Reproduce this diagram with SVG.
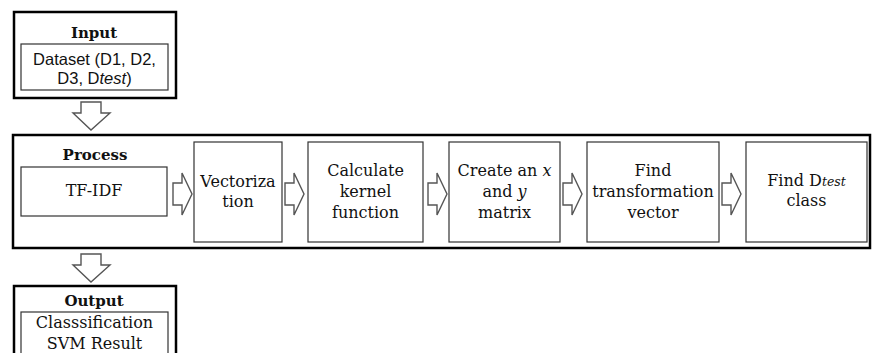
<svg xmlns="http://www.w3.org/2000/svg" width="873" height="353" viewBox="0 0 873 353">
  <style>
    .frame { fill: #ffffff; stroke: #000000; stroke-width: 2.5; }
    .box { fill: #ffffff; stroke: #333333; stroke-width: 1.2; }
    .arrow { fill: #ffffff; stroke: #555555; stroke-width: 1.4; stroke-linejoin: miter; }
    .serif { font-family: "DejaVu Serif", "Liberation Serif", serif; font-size: 16px; fill: #111111; text-anchor: middle; }
    .title { font-family: "DejaVu Serif", "Liberation Serif", serif; font-size: 15px; font-weight: bold; fill: #111111; text-anchor: middle; }
    .sans { font-family: "Liberation Sans", Arial, sans-serif; font-size: 16.5px; fill: #111111; text-anchor: middle; }
    .it { font-style: italic; }
    .sub { font-style: italic; font-size: 12.5px; }
  </style>
  <defs>
    <polygon id="rightArrow" points="0,183 9,183 9,173 19,194 9,215 9,205 0,205"/>
    <polygon id="downArrow" points="81,0 101,0 101,11 110,11 91,28 73,11 81,11"/>
  </defs>

  <!-- Input -->
  <g id="input">
    <rect class="frame" x="14" y="12" width="162" height="86"/>
    <text class="title" x="94" y="38">Input</text>
    <rect class="box" x="21" y="44" width="147" height="46"/>
    <text class="sans" x="94.5" y="65">Dataset (D1, D2,</text>
    <text class="sans" x="94.5" y="84">D3, D<tspan class="it">test</tspan>)</text>
  </g>

  <!-- Process frame -->
  <g id="process">
    <rect class="frame" x="13" y="135" width="857" height="113"/>
    <text class="title" x="95" y="160">Process</text>
  </g>

  <g id="tfidf">
    <rect class="box" x="21" y="167" width="146" height="49"/>
    <text class="serif" x="94" y="196">TF-IDF</text>
  </g>

  <g id="vectorization">
    <rect class="box" x="194" y="142" width="88" height="100"/>
    <text class="serif" x="238" y="187">Vectoriza</text>
    <text class="serif" x="238" y="207">tion</text>
  </g>

  <g id="kernel">
    <rect class="box" x="308" y="142" width="115" height="100"/>
    <text class="serif" x="365.5" y="176">Calculate</text>
    <text class="serif" x="365.5" y="197">kernel</text>
    <text class="serif" x="365.5" y="218">function</text>
  </g>

  <g id="matrix">
    <rect class="box" x="449" y="142" width="111" height="100"/>
    <text class="serif" x="504.5" y="176">Create an <tspan class="it">x</tspan></text>
    <text class="serif" x="504.5" y="197">and <tspan class="it">y</tspan></text>
    <text class="serif" x="504.5" y="218">matrix</text>
  </g>

  <g id="transformation">
    <rect class="box" x="587" y="142" width="132" height="100"/>
    <text class="serif" x="653" y="176">Find</text>
    <text class="serif" x="653" y="197">transformation</text>
    <text class="serif" x="653" y="218">vector</text>
  </g>

  <g id="dtest-class">
    <rect class="box" x="746" y="142" width="121" height="100"/>
    <text class="serif" x="806.5" y="186">Find D<tspan class="sub">test</tspan></text>
    <text class="serif" x="806.5" y="206">class</text>
  </g>

  <!-- Output -->
  <g id="output">
    <rect class="frame" x="14" y="286" width="162" height="80"/>
    <text class="title" x="94" y="306">Output</text>
    <rect class="box" x="21" y="312" width="147" height="50"/>
    <text class="serif" x="94.5" y="328">Classsification</text>
    <text class="serif" x="94.5" y="349">SVM Result</text>
  </g>

  <!-- Connectors -->
  <g id="connectors">
    <use href="#downArrow" class="arrow" y="102"/>
    <use href="#downArrow" class="arrow" y="254"/>
    <use href="#rightArrow" class="arrow" x="173"/>
    <use href="#rightArrow" class="arrow" x="285"/>
    <use href="#rightArrow" class="arrow" x="428"/>
    <use href="#rightArrow" class="arrow" x="563"/>
    <use href="#rightArrow" class="arrow" x="722"/>
  </g>
</svg>
